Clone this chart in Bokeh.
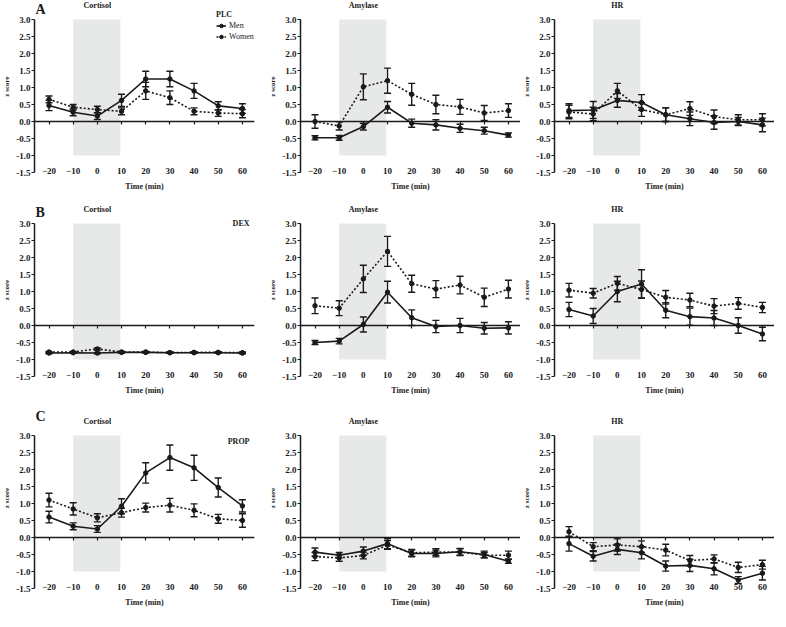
import numpy as np
from bokeh.plotting import figure
from bokeh.layouts import gridplot
from bokeh.models import (ColumnDataSource, Whisker, TeeHead, LinearAxis, FixedTicker,
                          NumeralTickFormatter, Label, Legend, LegendItem, Range1d)
from bokeh.embed import file_html
from bokeh.resources import INLINE

# ---------------- data ----------------
time_min = [-20, -10, 0, 10, 20, 30, 40, 50, 60]
y_ticks = [-1.5, -1.0, -0.5, 0.0, 0.5, 1.0, 1.5, 2.0, 2.5, 3.0]
task_window = [-10, 9.5]     # shaded stress period (min)
task_band = [-1.0, 3.0]      # vertical extent of shading (z)

row_letters = ["A", "B", "C"]
conditions = ["PLC", "DEX", "PROP"]
measures = ["Cortisol", "Amylase", "HR"]
group_labels = ["Men", "Women"]

# PLC
plc_cortisol_men = [0.47, 0.27, 0.16, 0.62, 1.25, 1.25, 0.90, 0.46, 0.38]
plc_cortisol_men_sem = [0.15, 0.10, 0.10, 0.18, 0.23, 0.23, 0.22, 0.12, 0.14]
plc_cortisol_women = [0.65, 0.42, 0.35, 0.30, 0.90, 0.70, 0.30, 0.25, 0.23]
plc_cortisol_women_sem = [0.10, 0.08, 0.10, 0.10, 0.25, 0.20, 0.10, 0.10, 0.12]
plc_amylase_men = [-0.48, -0.48, -0.15, 0.42, -0.05, -0.10, -0.20, -0.27, -0.40]
plc_amylase_men_sem = [0.06, 0.07, 0.10, 0.17, 0.12, 0.15, 0.12, 0.10, 0.06]
plc_amylase_women = [0.00, -0.13, 1.02, 1.20, 0.80, 0.50, 0.43, 0.25, 0.32]
plc_amylase_women_sem = [0.20, 0.12, 0.38, 0.37, 0.32, 0.27, 0.22, 0.22, 0.20]
plc_hr_men = [0.32, 0.34, 0.62, 0.56, 0.20, 0.08, -0.03, 0.00, -0.10]
plc_hr_men_sem = [0.20, 0.25, 0.20, 0.23, 0.20, 0.20, 0.20, 0.12, 0.20]
plc_hr_women = [0.28, 0.22, 0.90, 0.35, 0.20, 0.38, 0.14, 0.05, 0.05]
plc_hr_women_sem = [0.20, 0.20, 0.22, 0.20, 0.20, 0.20, 0.20, 0.15, 0.18]

# DEX
dex_cortisol_men = [-0.81, -0.80, -0.81, -0.79, -0.79, -0.80, -0.80, -0.80, -0.81]
dex_cortisol_men_sem = [0.02, 0.02, 0.02, 0.02, 0.02, 0.02, 0.02, 0.02, 0.02]
dex_cortisol_women = [-0.78, -0.78, -0.69, -0.78, -0.78, -0.80, -0.79, -0.79, -0.80]
dex_cortisol_women_sem = [0.02, 0.02, 0.03, 0.02, 0.02, 0.02, 0.02, 0.02, 0.02]
dex_amylase_men = [-0.50, -0.46, 0.03, 0.98, 0.23, -0.03, 0.00, -0.08, -0.07]
dex_amylase_men_sem = [0.06, 0.08, 0.22, 0.32, 0.23, 0.18, 0.21, 0.17, 0.18]
dex_amylase_women = [0.58, 0.51, 1.37, 2.18, 1.23, 1.07, 1.19, 0.83, 1.07]
dex_amylase_women_sem = [0.23, 0.22, 0.40, 0.44, 0.25, 0.25, 0.26, 0.27, 0.26]
dex_hr_men = [0.47, 0.28, 1.00, 1.22, 0.45, 0.26, 0.22, 0.00, -0.25]
dex_hr_men_sem = [0.21, 0.22, 0.30, 0.42, 0.22, 0.25, 0.22, 0.23, 0.20]
dex_hr_women = [1.04, 0.95, 1.24, 1.06, 0.83, 0.75, 0.57, 0.65, 0.53]
dex_hr_women_sem = [0.20, 0.14, 0.20, 0.25, 0.20, 0.20, 0.22, 0.17, 0.15]

# PROP
prop_cortisol_men = [0.60, 0.33, 0.25, 0.92, 1.90, 2.35, 2.05, 1.47, 0.93]
prop_cortisol_men_sem = [0.17, 0.10, 0.10, 0.22, 0.30, 0.37, 0.37, 0.28, 0.18]
prop_cortisol_women = [1.10, 0.84, 0.58, 0.73, 0.88, 0.95, 0.80, 0.55, 0.50]
prop_cortisol_women_sem = [0.20, 0.18, 0.12, 0.13, 0.13, 0.20, 0.19, 0.13, 0.20]
prop_amylase_men = [-0.43, -0.52, -0.40, -0.18, -0.47, -0.47, -0.42, -0.50, -0.70]
prop_amylase_men_sem = [0.12, 0.08, 0.12, 0.15, 0.10, 0.10, 0.10, 0.10, 0.06]
prop_amylase_women = [-0.56, -0.60, -0.53, -0.22, -0.45, -0.43, -0.43, -0.52, -0.52]
prop_amylase_women_sem = [0.12, 0.10, 0.10, 0.13, 0.10, 0.10, 0.10, 0.08, 0.12]
prop_hr_men = [-0.18, -0.55, -0.35, -0.45, -0.84, -0.82, -0.92, -1.25, -1.05]
prop_hr_men_sem = [0.22, 0.14, 0.15, 0.18, 0.15, 0.18, 0.18, 0.10, 0.20]
prop_hr_women = [0.17, -0.27, -0.22, -0.27, -0.37, -0.68, -0.63, -0.88, -0.80]
prop_hr_women_sem = [0.15, 0.12, 0.18, 0.17, 0.17, 0.15, 0.12, 0.15, 0.13]

panels = [
    [(plc_cortisol_men, plc_cortisol_men_sem, plc_cortisol_women, plc_cortisol_women_sem),
     (plc_amylase_men, plc_amylase_men_sem, plc_amylase_women, plc_amylase_women_sem),
     (plc_hr_men, plc_hr_men_sem, plc_hr_women, plc_hr_women_sem)],
    [(dex_cortisol_men, dex_cortisol_men_sem, dex_cortisol_women, dex_cortisol_women_sem),
     (dex_amylase_men, dex_amylase_men_sem, dex_amylase_women, dex_amylase_women_sem),
     (dex_hr_men, dex_hr_men_sem, dex_hr_women, dex_hr_women_sem)],
    [(prop_cortisol_men, prop_cortisol_men_sem, prop_cortisol_women, prop_cortisol_women_sem),
     (prop_amylase_men, prop_amylase_men_sem, prop_amylase_women, prop_amylase_women_sem),
     (prop_hr_men, prop_hr_men_sem, prop_hr_women, prop_hr_women_sem)],
]

# ---------------- style / layout ----------------
FONT = "Liberation Serif"
INK = "#1a1a1a"
SHADE = "#e7e9e8"
X_LO, X_HI = -26, 65
FRAME_W = 220
PLOT_H = 153                     # px for the -1.5 .. 3.0 band
PX_PER_UNIT = PLOT_H / (y_ticks[-1] - y_ticks[0])
ROW_TOP = [19, 20, 28]           # px above the 3.0 line (title band, inside frame)
ROW_BOTTOM = [31, 31, 22]
BORDER_LEFT = [30, 34, 34]
BORDER_RIGHT = [12, 0, 0]
TITLE_PX = 14                    # title centre above the 3.0 line


def add_series(p, vals, sem, dash):
    v = np.array(vals)
    s = np.array(sem)
    src = ColumnDataSource(dict(x=time_min, y=vals, upper=v + s, lower=v - s))
    ln = p.line("x", "y", source=src, line_color=INK, line_width=1.6, line_dash=dash)
    p.add_layout(Whisker(source=src, base="x", upper="upper", lower="lower",
                         line_color=INK, line_width=1.4, level="glyph",
                         upper_head=TeeHead(size=7, line_color=INK, line_width=1.4),
                         lower_head=TeeHead(size=7, line_color=INK, line_width=1.4)))
    sc = p.scatter("x", "y", source=src, size=4.5, marker="circle",
                   fill_color=INK, line_color=INK)
    return ln, sc


def make_panel(r, c):
    men, men_sem, women, women_sem = panels[r][c]
    y_hi = y_ticks[-1] + ROW_TOP[r] / PX_PER_UNIT
    title_y = y_ticks[-1] + TITLE_PX / PX_PER_UNIT
    p = figure(frame_width=FRAME_W, frame_height=PLOT_H + ROW_TOP[r],
               x_range=Range1d(X_LO, X_HI), y_range=Range1d(y_ticks[0], y_hi),
               output_backend="svg", toolbar_location=None, tools="",
               min_border_left=BORDER_LEFT[c], min_border_right=BORDER_RIGHT[c],
               min_border_top=0, min_border_bottom=ROW_BOTTOM[r])
    p.outline_line_color = None
    p.xgrid.visible = False
    p.ygrid.visible = False
    p.background_fill_color = "white"
    p.border_fill_color = "white"

    p.quad(left=[task_window[0]], right=[task_window[1]],
           bottom=[task_band[0]], top=[task_band[1]],
           fill_color=SHADE, line_color=None)

    wl, ws = add_series(p, women, women_sem, "2 2")
    ml, ms = add_series(p, men, men_sem, "solid")

    # bottom axis: labels only (sitting level with the -1.5 tick)
    xa = p.xaxis[0]
    xa.ticker = FixedTicker(ticks=time_min)
    xa.axis_line_color = None
    xa.major_tick_line_color = None
    xa.minor_tick_line_color = None
    xa.major_label_standoff = -11
    xa.major_label_text_font = FONT
    xa.major_label_text_font_style = "bold"
    xa.major_label_text_font_size = "9px"
    xa.major_label_text_color = INK
    xa.axis_label = "Time (min)"
    xa.axis_label_standoff = 5
    xa.axis_label_text_font = FONT
    xa.axis_label_text_font_style = "bold"
    xa.axis_label_text_font_size = "8px"
    xa.axis_label_text_color = INK

    # zero line with tick marks (minor ticks only, so no labels)
    zero_axis = LinearAxis(fixed_location=0,
                           ticker=FixedTicker(ticks=[], minor_ticks=time_min),
                           major_tick_line_color=None,
                           minor_tick_out=3, minor_tick_in=0,
                           minor_tick_line_color=INK, minor_tick_line_width=1.2,
                           axis_line_color=INK, axis_line_width=1.5)
    p.add_layout(zero_axis, "below")

    ya = p.yaxis[0]
    ya.ticker = FixedTicker(ticks=y_ticks)
    ya.formatter = NumeralTickFormatter(format="0.0")
    ya.bounds = (y_ticks[0], y_ticks[-1])
    ya.axis_line_color = INK
    ya.axis_line_width = 1.5
    ya.major_tick_out = 3
    ya.major_tick_in = 0
    ya.major_tick_line_color = INK
    ya.major_tick_line_width = 1.2
    ya.minor_tick_line_color = None
    ya.major_label_standoff = 1
    ya.major_label_text_font = FONT
    ya.major_label_text_font_style = "bold"
    ya.major_label_text_font_size = "9px"
    ya.major_label_text_color = INK
    ya.axis_label = "z score"
    ya.axis_label_standoff = 2
    ya.axis_label_text_font = FONT
    ya.axis_label_text_font_style = "bold"
    ya.axis_label_text_font_size = "7px"
    ya.axis_label_text_color = INK

    # panel title centred on time 0
    p.add_layout(Label(x=0, y=title_y, text=measures[c], text_align="center",
                       text_baseline="middle", text_font=FONT, text_font_style="bold",
                       text_font_size="8px", text_color=INK))

    if c == 0:
        p.add_layout(Label(x=X_LO, y=y_hi, x_offset=1, y_offset=-1, text=row_letters[r],
                           text_align="left", text_baseline="top", text_font=FONT,
                           text_font_style="bold", text_font_size="14px", text_color=INK))
        if r == 0:
            leg = Legend(items=[LegendItem(label=group_labels[0], renderers=[ml, ms]),
                                LegendItem(label=group_labels[1], renderers=[wl, ws])],
                         title=conditions[r], location=(182, PLOT_H + ROW_TOP[r] - 41),
                         title_text_font=FONT, title_text_font_style="bold",
                         title_text_font_size="8px", title_text_color=INK,
                         title_standoff=2,
                         label_text_font=FONT, label_text_font_size="8px",
                         label_text_color=INK,
                         label_height=9, glyph_height=9, glyph_width=10,
                         label_standoff=3, spacing=2, padding=0, margin=0,
                         background_fill_alpha=0, border_line_color=None)
            p.add_layout(leg)
        else:
            p.add_layout(Label(x=X_HI, y=y_ticks[-1], x_offset=-5,
                               y_offset=(0 if r == 1 else -6), text=conditions[r],
                               text_align="right", text_baseline="middle", text_font=FONT,
                               text_font_style="bold", text_font_size="8px", text_color=INK))
    return p


rows = [[make_panel(r, c) for c in range(3)] for r in range(3)]
grid = gridplot(rows, toolbar_location=None)

open("out.html", "w").write(file_html(grid, INLINE))
